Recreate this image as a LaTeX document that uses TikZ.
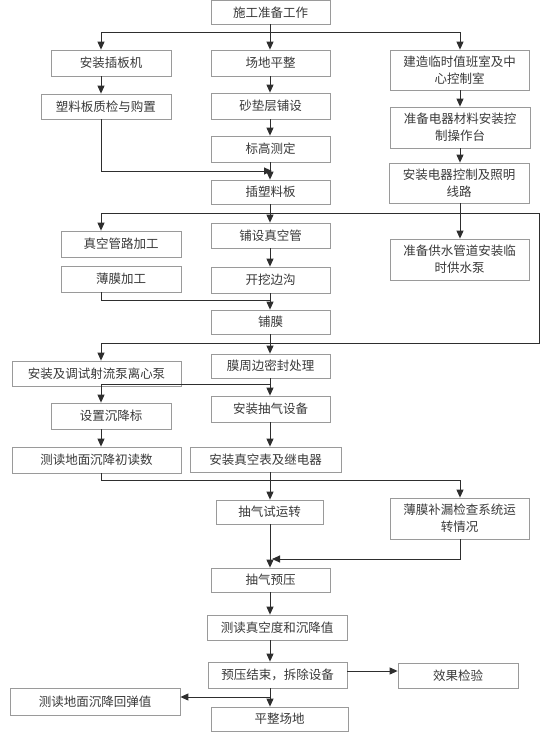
\documentclass[tikz,border=0pt]{standalone}
\usepackage{fontspec}
\newfontfamily\cjk{Noto Sans CJK SC}
\usetikzlibrary{arrows.meta}
\definecolor{boxgray}{HTML}{9A9A9A}
\definecolor{linec}{HTML}{2E2E2E}
\definecolor{txt}{HTML}{3A3A3A}
\newcommand\mkbox[6]{\node[box,minimum width={(#4-#2)*1pt},minimum height={(#5-#3)*1pt}] (#1) at ({(#2+#4)/2},{(#3+#5)/2}) {#6};}
\begin{document}
\begin{tikzpicture}[x=1pt,y=-1pt,
  box/.style={draw=boxgray,line width=0.8pt,fill=white,inner sep=0pt,align=center,
    font=\cjk\fontsize{12.5}{17}\selectfont,text=txt},
  conn/.style={draw=linec,line width=0.9pt},
  arr/.style={conn,-{Triangle[length=8pt,width=7pt]}}]
\useasboundingbox (0,0) rectangle (555,737);
\fill[white] (0,0) rectangle (555,737);

\mkbox{n1}{211}{0.5}{330}{24}{施工准备工作}
\mkbox{n2}{51}{50}{171}{76}{安装插板机}
\mkbox{n3}{211}{50}{330}{76}{场地平整}
\mkbox{n4}{390}{50}{529}{90}{建造临时值班室及中\\心控制室}
\mkbox{n5}{41}{94}{171}{119}{塑料板质检与购置}
\mkbox{n6}{211}{93}{330}{119}{砂垫层铺设}
\mkbox{n7}{390}{107}{530}{148}{准备电器材料安装控\\制操作台}
\mkbox{n8}{211}{136}{330}{162}{标高测定}
\mkbox{n9}{389}{163}{529}{203}{安装电器控制及照明\\线路}
\mkbox{n10}{211}{180}{330}{204}{插塑料板}
\mkbox{n11}{61}{231}{181}{257}{真空管路加工}
\mkbox{n12}{211}{223}{330}{248}{铺设真空管}
\mkbox{n13}{390}{239}{529}{280}{准备供水管道安装临\\时供水泵}
\mkbox{n14}{61}{266}{181}{292}{薄膜加工}
\mkbox{n15}{211}{267}{330}{293}{开挖边沟}
\mkbox{n16}{211}{310}{330}{334}{铺膜}
\mkbox{n17}{211}{354}{330}{378}{膜周边密封处理}
\mkbox{n18}{12}{361}{181}{386}{安装及调试射流泵离心泵}
\mkbox{n19}{51}{403}{171}{429}{设置沉降标}
\mkbox{n20}{211}{396}{330}{422}{安装抽气设备}
\mkbox{n21}{12}{447}{181}{473}{测读地面沉降初读数}
\mkbox{n22}{190}{447}{341}{472}{安装真空表及继电器}
\mkbox{n23}{216}{500}{323}{524}{抽气试运转}
\mkbox{n24}{390}{498}{529}{539}{薄膜补漏检查系统运\\转情况}
\mkbox{n25}{211}{568}{330}{592}{抽气预压}
\mkbox{n26}{207}{615}{347}{640}{测读真空度和沉降值}
\mkbox{n27}{208}{662}{347}{688}{预压结束，拆除设备}
\mkbox{n28}{398}{663}{518}{688}{效果检验}
\mkbox{n29}{10}{688}{180}{715}{测读地面沉降回弹值}
\mkbox{n30}{211}{707}{348}{731}{平整场地}

\coordinate (cx) at (270,0);
\coordinate (lx) at (101,0);
\coordinate (rx) at (460,0);
\coordinate (ex) at (539,0);
\coordinate (j1) at (270,32);
\coordinate (j2) at (272,171);
\coordinate (j3) at (270,213);
\coordinate (j4) at (270,343);
\coordinate (j5) at (270,300);
\coordinate (j6) at (270,384);
\coordinate (j7) at (270,480.5);
\coordinate (j8) at (272,559);
\coordinate (j9) at (270,697);
\coordinate (j10) at (347,671);

% top branches
\draw[arr] (cx|-n1.south) -- (cx|-n3.north);
\draw[arr] (j1) -| (lx|-n2.north);
\draw[arr] (j1) -| (rx|-n4.north);
% left column
\draw[arr] (lx|-n2.south) -- (lx|-n5.north);
\draw[arr] (lx|-n5.south) |- (j2);
% centre column
\draw[arr] (cx|-n3.south) -- (cx|-n6.north);
\draw[arr] (cx|-n6.south) -- (cx|-n8.north);
\draw[arr] (cx|-n8.south) -- (cx|-n10.north);
% right column
\draw[arr] (rx|-n4.south) -- (rx|-n7.north);
\draw[arr] (rx|-n7.south) -- (rx|-n9.north);
\draw[arr] (rx|-n9.south) -- (rx|-n13.north);
% loop
\draw[conn] (lx|-j3) -- (ex|-j3) -- (ex|-j4) -- (lx|-j4);
\draw[arr] (lx|-j3) -- (lx|-n11.north);
\draw[arr] (lx|-j4) -- (lx|-n18.north);
\draw[arr] (cx|-n10.south) -- (cx|-n12.north);
\draw[arr] (cx|-n12.south) -- (cx|-n15.north);
\draw[arr] (cx|-n15.south) -- (cx|-n16.north);
\draw[conn] (lx|-n14.south) |- (j5);
\draw[arr] (cx|-n16.south) -- (cx|-n17.north);
% lower part
\draw[arr] (cx|-n17.south) -- (cx|-n20.north);
\draw[arr] (j6) -| (lx|-n19.north);
\draw[arr] (lx|-n19.south) -- (lx|-n21.north);
\draw[arr] (cx|-n20.south) -- (cx|-n22.north);
\draw[arr] (lx|-n21.south) |- (rx|-j7) -- (rx|-n24.north);
\draw[arr] (cx|-n22.south) -- (cx|-n23.north);
\draw[arr] (cx|-n23.south) -- (cx|-n25.north);
\draw[arr] (rx|-n24.south) |- (j8);
\draw[arr] (cx|-n25.south) -- (cx|-n26.north);
\draw[arr] (cx|-n26.south) -- (cx|-n27.north);
\draw[arr] (cx|-n27.south) -- (cx|-n30.north);
\draw[arr] (j9) -- (n29.east|-j9);
\draw[arr] (j10) -- (n28.west|-j10);
\end{tikzpicture}
\end{document}
